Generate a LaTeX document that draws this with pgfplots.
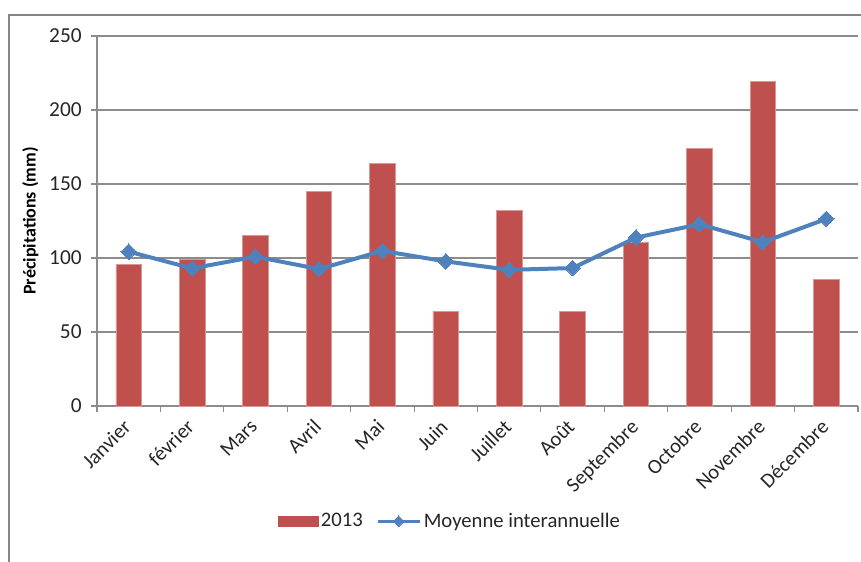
\documentclass[border=0pt]{standalone}
\usepackage{pgfplots}
\pgfplotsset{compat=1.18}
\usepackage{fontspec}
\setmainfont{Carlito}
\definecolor{barred}{HTML}{C0504D}
\definecolor{baredge}{HTML}{D99694}
\definecolor{lineblue}{HTML}{4F81BD}
\definecolor{gridgray}{HTML}{8C8C8C}
\definecolor{framegray}{HTML}{868686}
\pgfplotsset{
  barlegend/.style={legend image code/.code={\fill[barred] (0pt,-3.75pt) rectangle (30pt,3.75pt);}},
  linelegend/.style={legend image code/.code={\draw[##1, line width=2.2pt, mark size=2.8pt, mark repeat=2, mark phase=2] plot coordinates {(0pt,0pt) (15.75pt,0pt) (31.5pt,0pt)};}},
}
\begin{document}
\begin{tikzpicture}[x=1pt,y=1pt]
\useasboundingbox (0,0) rectangle (645.75,420.75);
\draw[framegray, line width=1.5pt] (6.75,-2) -- (6.75,409.5) -- (648,409.5);
\begin{axis}[
  at={(72.75pt,116.25pt)}, anchor=south west,
  width=570.75pt, height=277.5pt, scale only axis,
  xmin=-0.5, xmax=11.5, ymin=0, ymax=250,
  ytick={0,50,...,250},
  ymajorgrids, grid style={gridgray, line width=0.8pt},
  axis lines=left, axis line style={-, gridgray, line width=0.8pt},
  tick align=outside, major tick length=4.5pt, minor tick length=4.5pt,
  xtick={0,...,11},
  xticklabels={Janvier,février,Mars,Avril,Mai,Juin,Juillet,Août,Septembre,Octobre,Novembre,Décembre},
  major x tick style={draw=none},
  minor xtick={-0.5,0.5,...,11.5},
  minor x tick style={gridgray, line width=0.8pt},
  ytick style={gridgray, line width=0.8pt},
  /pgf/number format/assume math mode=true,
  ticklabel style={font=\fontsize{16}{19}\selectfont, text=black!85},
  xticklabel style={font=\fontsize{15.5}{18}\selectfont, xshift=-5pt, yshift=-3pt, rotate=45, anchor=north east, inner sep=1pt},
  yticklabel style={xshift=-3.5pt},
  ylabel={Précipitations (mm)},
  ylabel style={font=\fontsize{13.5}{16}\selectfont\bfseries, at={(axis description cs:-0.0876,0.5)}, anchor=center},
  legend style={at={(axis description cs:0.464,-0.311)}, anchor=center, draw=none, fill=none,
    font=\fontsize{15.5}{18}\selectfont, text=black!85,
    /tikz/every even column/.append style={column sep=8pt}},
  legend columns=2,
]
\addplot[ybar, bar width=19.2pt, fill=barred, draw=baredge, line width=0.6pt, barlegend]
  coordinates {(0,95.7) (1,99.3) (2,115.5) (3,145.2) (4,163.6) (5,64) (6,132.4) (7,64) (8,110.5) (9,174) (10,219.5) (11,85.6)};
\addlegendentry{2013}
\addplot[lineblue, line width=3pt, mark=square*, mark size=4.1pt, mark options={rotate=45, line width=0pt, fill=lineblue}, linelegend]
  coordinates {(0,104.3) (1,93) (2,100.9) (3,92.5) (4,104.8) (5,97.7) (6,92) (7,93.2) (8,113.8) (9,122.8) (10,110.7) (11,126.4)};
\addlegendentry{Moyenne interannuelle}
\end{axis}
\end{tikzpicture}
\end{document}
